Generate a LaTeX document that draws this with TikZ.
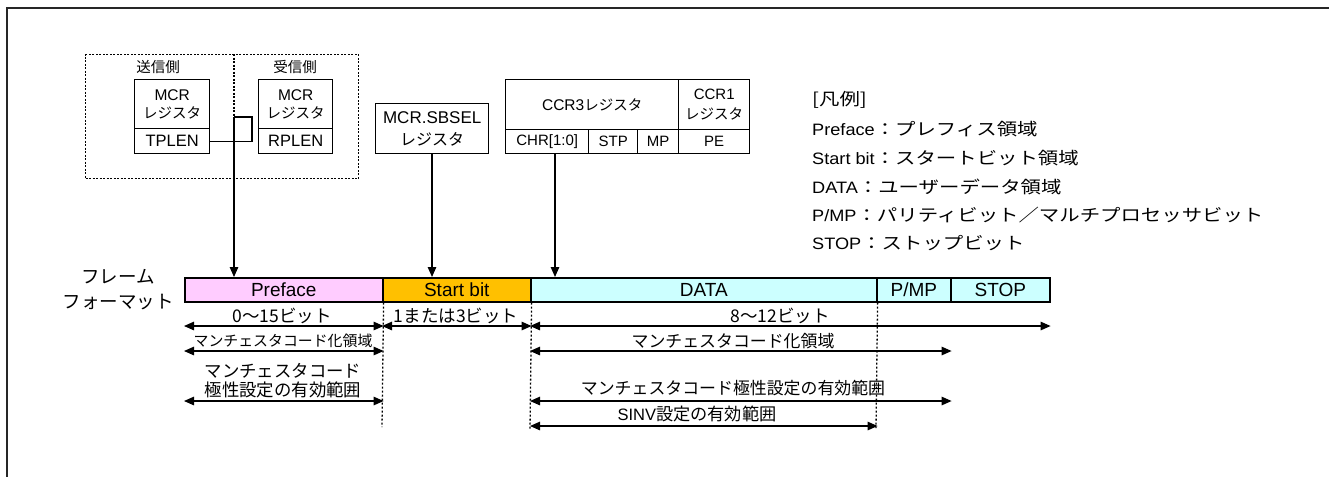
\documentclass[tikz,border=0pt]{standalone}
\usepackage{fontspec}
\setmainfont{Liberation Sans}
\newfontfamily\jp{Noto Sans CJK JP}
\newfontfamily\jpw[FakeStretch=1.2]{Noto Sans CJK JP}
\newfontfamily\latw[FakeStretch=1.1]{Liberation Sans}
\usetikzlibrary{arrows.meta,calc}
\definecolor{prefc}{HTML}{FFCCFF}
\definecolor{startc}{HTML}{FFC000}
\definecolor{datac}{HTML}{CCFFFF}
\tikzset{
  regbox/.style={draw, line width=1.4pt, inner sep=0pt, anchor=north west, align=center},
  fbox/.style={draw, line width=1.6pt, inner sep=0pt, anchor=north west, minimum height=24pt,
    font=\fontsize{19}{20}\selectfont},
  grpbox/.style={draw, line width=1.4pt, dash pattern=on 2pt off 1.5pt, inner sep=0pt, anchor=north west},
  dimarrow/.style={line width=1.2pt, {Triangle[length=10pt,width=8.5pt]}-{Triangle[length=10pt,width=8.5pt]}},
  ptr/.style={line width=1.2pt, -{Triangle[length=10pt,width=8.5pt]}},
  guide/.style={line width=1.3pt, dash pattern=on 2pt off 2pt},
  lbl/.style={inner sep=0pt, align=center},
  leg/.style={inner sep=0pt, anchor=west, font=\fontsize{16.5}{18}\selectfont},
}
\begin{document}
\begin{tikzpicture}[x=1pt,y=-1pt]
\useasboundingbox (0,0) rectangle (1329,477);
% outer frame
\draw[line width=1.8pt, black!85] (1329,8) -- (7,8) -- (7,477);

% transmitter / receiver group
\node[grpbox, minimum width=273pt, minimum height=124pt] (grp) at (85,54) {};
\coordinate (split) at (234,54);
\draw[line width=1.4pt, dash pattern=on 2pt off 1.5pt] (grp.north -| split) -- (grp.south -| split);
\node[lbl, font=\jp\fontsize{14.5}{16}\selectfont] (sl) at (158,67) {送信側};
\node[lbl, font=\jp\fontsize{14.5}{16}\selectfont] (rl) at (295,67) {受信側};

\node[regbox, minimum width=75pt, minimum height=49pt, font=\fontsize{15.5}{18}\selectfont] (mcrT) at (134,79) {MCR\\{\jp\fontsize{14.5}{18}\selectfont レジスタ}};
\node[regbox, minimum width=75pt, minimum height=25pt, font=\fontsize{16.5}{18}\selectfont] (tplen) at (134,128) {TPLEN};
\node[regbox, minimum width=74pt, minimum height=49pt, font=\fontsize{15.5}{18}\selectfont] (mcrR) at (258,79) {MCR\\{\jp\fontsize{14.5}{18}\selectfont レジスタ}};
\node[regbox, minimum width=74pt, minimum height=25pt, font=\fontsize{16.5}{18}\selectfont] (rplen) at (258,128) {RPLEN};

% SBSEL
\node[regbox, minimum width=113pt, minimum height=50pt, font=\fontsize{17}{22}\selectfont] (sbsel) at (375,103) {MCR.SBSEL\\{\jp\fontsize{16}{22}\selectfont レジスタ}};

% CCR3 / CCR1
\node[regbox, minimum width=173pt, minimum height=50pt, font=\fontsize{15.5}{18}\selectfont] (ccr3) at (505,79) {CCR3{\jp\fontsize{14.5}{18}\selectfont レジスタ}};
\node[regbox, minimum width=71pt, minimum height=50pt, font=\fontsize{15}{20}\selectfont] (ccr1) at (678,79) {CCR1\\{\jp\fontsize{14.5}{20}\selectfont レジスタ}};
\node[regbox, minimum width=83pt, minimum height=24pt, font=\fontsize{15}{16}\selectfont] (chr) at (505,129) {CHR[1:0]};
\node[regbox, minimum width=49pt, minimum height=24pt, font=\fontsize{15}{16}\selectfont] (stp) at (588,129) {STP};
\node[regbox, minimum width=41pt, minimum height=24pt, font=\fontsize{15}{16}\selectfont] (mp) at (637,129) {MP};
\node[regbox, minimum width=71pt, minimum height=24pt, font=\fontsize{15}{16}\selectfont] (pe) at (678,129) {PE};

% frame format
\node[lbl, font=\jp\fontsize{18.5}{25}\selectfont] (ff) at (118,289.5) {フレーム\\フォーマット};
\node[fbox, fill=prefc, minimum width=198pt] (pre) at (184,277) {Preface};
\node[fbox, fill=startc, minimum width=148pt] (sb) at (382,277) {Start bit};
\node[fbox, fill=datac, minimum width=346pt] (data) at (530,277) {DATA};
\node[fbox, fill=datac, minimum width=74pt] (pmp) at (876,277) {P/MP};
\node[fbox, fill=datac, minimum width=99pt] (stop) at (950,277) {STOP};

% pointers
\coordinate (c1) at (252,117);
\coordinate (c2) at (234,117);
\draw[line width=1.2pt] (tplen.east) -- (tplen.east -| c1) -- (c1) -- (c2);
\draw[ptr] (c2) -- (c2 |- pre.north);
\coordinate (sbx) at (432,0);
\draw[ptr] (sbsel.south -| sbx) -- (sbx |- sb.north);
\coordinate (chx) at (555,0);
\draw[ptr] (chr.south -| chx) -- (chx |- data.north);

% guide lines
\coordinate (g1) at (382,427);
\coordinate (g2) at (530,430);
\coordinate (g3) at (876,428);
\draw[guide] (pre.south east) -- (g1);
\draw[guide] (sb.south east) -- (g2);
\draw[guide] (data.south east) -- (g3);

% rows
\coordinate (r1) at (0,326);
\coordinate (r2) at (0,351);
\coordinate (r3) at (0,401);
\coordinate (r4) at (0,426);
\draw[dimarrow] (pre.west |- r1) -- (pre.east |- r1);
\draw[dimarrow] (sb.west |- r1) -- (sb.east |- r1);
\draw[dimarrow] (data.west |- r1) -- (stop.east |- r1);
\draw[dimarrow] (pre.west |- r2) -- (pre.east |- r2);
\draw[dimarrow] (data.west |- r2) -- (pmp.east |- r2);
\draw[dimarrow] (pre.west |- r3) -- (pre.east |- r3);
\draw[dimarrow] (data.west |- r3) -- (pmp.east |- r3);
\draw[dimarrow] (data.west |- r4) -- (data.east |- r4);

\node[lbl, font=\jp\fontsize{17.5}{20}\selectfont] (t1) at (282,316) {0〜15ビット};
\node[lbl, font=\jp\fontsize{17.5}{20}\selectfont] (t2) at (456,316) {1または3ビット};
\node[lbl, font=\jp\fontsize{17.5}{20}\selectfont] (t3) at (780,316) {8〜12ビット};
\node[lbl, font=\jp\fontsize{14.9}{18}\selectfont] (t4) at (283,341) {マンチェスタコード化領域};
\node[lbl, font=\jp\fontsize{16.9}{20}\selectfont] (t5) at (733,341) {マンチェスタコード化領域};
\node[lbl, font=\jp\fontsize{17.4}{19.5}\selectfont] (t6) at (283,380.5) {マンチェスタコード\\極性設定の有効範囲};
\node[lbl, font=\jp\fontsize{16.9}{20}\selectfont] (t7) at (733,388) {マンチェスタコード極性設定の有効範囲};
\node[lbl, font=\jp\fontsize{17.2}{20}\selectfont] (t8) at (697,414) {{\rmfamily\fontsize{16.5}{20}\selectfont SINV}設定の有効範囲};

% legend
\node[leg] (l1) at (812,100) {{\jpw\fontsize{17}{18}\selectfont [凡例]}};
\node[leg] (l2) at (812,129) {{\latw Preface}{\jpw\fontsize{17}{18}\selectfont ：プレフィス領域}};
\node[leg] (l3) at (812,158) {{\latw Start bit}{\jpw\fontsize{17}{18}\selectfont ：スタートビット領域}};
\node[leg] (l4) at (812,187) {{\latw DATA}{\jpw\fontsize{17}{18}\selectfont ：ユーザーデータ領域}};
\node[leg] (l5) at (812,215) {{\latw P/MP}{\jpw\fontsize{17}{18}\selectfont ：パリティビット／マルチプロセッサビット}};
\node[leg] (l6) at (812,243) {{\latw STOP}{\jpw\fontsize{17}{18}\selectfont ：ストップビット}};
\end{tikzpicture}
\end{document}
